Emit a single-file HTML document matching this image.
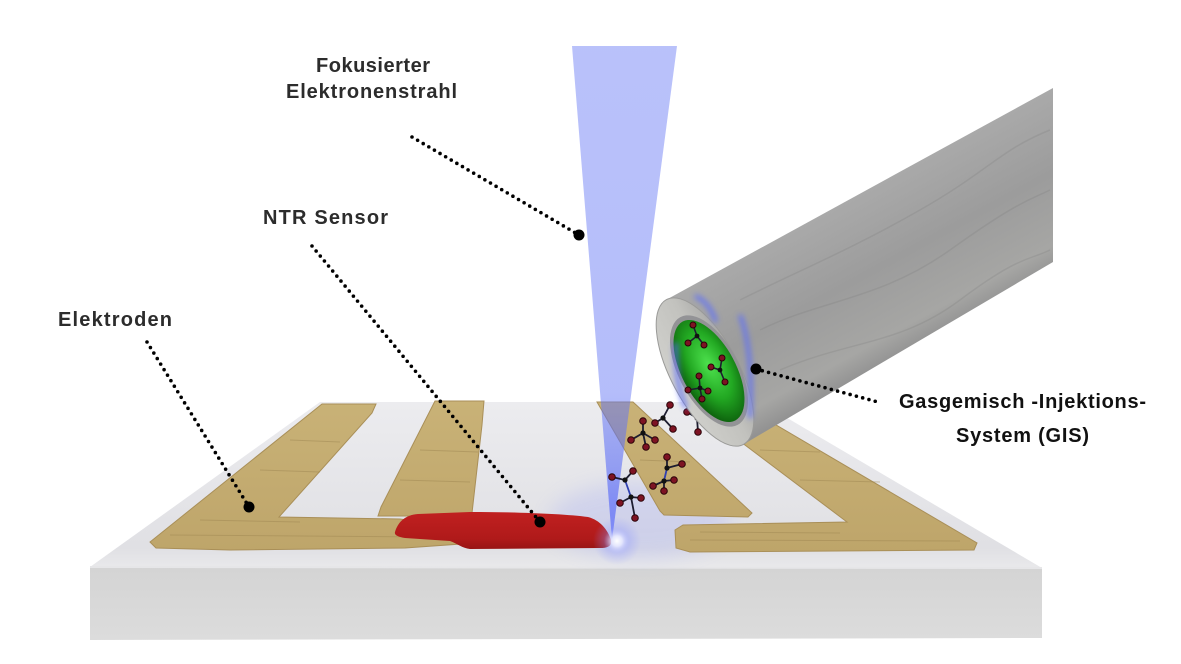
<!DOCTYPE html>
<html><head><meta charset="utf-8">
<style>
html,body{margin:0;padding:0;background:#fff;}
svg{display:block;}
text{font-family:"Liberation Sans",Arial,sans-serif;font-weight:bold;font-size:20px;}
</style></head><body>
<svg width="1181" height="664" viewBox="0 0 1181 664" xmlns="http://www.w3.org/2000/svg">
<defs>
 <linearGradient id="topf" x1="0" y1="402" x2="0" y2="568" gradientUnits="userSpaceOnUse">
  <stop offset="0" stop-color="#ececef"/><stop offset="0.88" stop-color="#e0e0e4"/><stop offset="1" stop-color="#e9e9eb"/>
 </linearGradient>
 <linearGradient id="front" x1="0" y1="567" x2="0" y2="640" gradientUnits="userSpaceOnUse">
  <stop offset="0" stop-color="#d4d4d4"/><stop offset="1" stop-color="#dcdcdc"/>
 </linearGradient>
 <linearGradient id="tan" x1="0" y1="400" x2="0" y2="552" gradientUnits="userSpaceOnUse">
  <stop offset="0" stop-color="#c9b277"/><stop offset="1" stop-color="#bea56a"/>
 </linearGradient>
 <linearGradient id="red" x1="0" y1="512" x2="0" y2="550" gradientUnits="userSpaceOnUse">
  <stop offset="0" stop-color="#c02020"/><stop offset="0.7" stop-color="#b01a1a"/><stop offset="1" stop-color="#951414"/>
 </linearGradient>
 <linearGradient id="beam" x1="0" y1="46" x2="0" y2="540" gradientUnits="userSpaceOnUse">
  <stop offset="0" stop-color="#6476f5" stop-opacity="0.45"/>
  <stop offset="0.7" stop-color="#6476f5" stop-opacity="0.48"/>
  <stop offset="1" stop-color="#5a6af8" stop-opacity="0.75"/>
 </linearGradient>
 <radialGradient id="glow" cx="0.5" cy="0.5" r="0.5">
  <stop offset="0" stop-color="#ffffff" stop-opacity="1"/>
  <stop offset="0.22" stop-color="#e6e8ff" stop-opacity="0.9"/>
  <stop offset="0.55" stop-color="#8c96ff" stop-opacity="0.3"/>
  <stop offset="1" stop-color="#8c96ff" stop-opacity="0"/>
 </radialGradient>
 <linearGradient id="tube" x1="870" y1="190" x2="947" y2="331" gradientUnits="userSpaceOnUse">
  <stop offset="0" stop-color="#a9a9a9"/><stop offset="0.45" stop-color="#9c9c9c"/>
  <stop offset="0.85" stop-color="#a6a6a4"/><stop offset="1" stop-color="#929292"/>
 </linearGradient>
 <linearGradient id="rim" x1="0" y1="0" x2="1" y2="0">
  <stop offset="0" stop-color="#cfcfcb"/><stop offset="0.6" stop-color="#c2c2be"/><stop offset="1" stop-color="#a8a8a6"/>
 </linearGradient>
 <radialGradient id="green" cx="0.55" cy="0.45" r="0.6">
  <stop offset="0" stop-color="#4ee24e"/><stop offset="0.55" stop-color="#22a822"/><stop offset="1" stop-color="#0b5a0b"/>
 </radialGradient>
 <filter id="blur3" x="-50%" y="-50%" width="200%" height="200%"><feGaussianBlur stdDeviation="3"/></filter>
 <filter id="blur8" x="-50%" y="-50%" width="200%" height="200%"><feGaussianBlur stdDeviation="10"/></filter>
</defs>

<!-- slab -->
<polygon points="320,402 760,402 1042,568 90,567" fill="url(#topf)"/>
<polygon points="90,567 1042,568 1042,638 90,640" fill="url(#front)"/>
<line x1="90" y1="567" x2="1042" y2="568" stroke="#e6e6e8" stroke-width="2"/>

<!-- blue haze -->
<ellipse cx="640" cy="520" rx="90" ry="38" fill="#7c88ff" opacity="0.18" filter="url(#blur8)"/>

<!-- electrodes -->
<g fill="url(#tan)" stroke="#a98f58" stroke-width="1">
 <path d="M322,404 L376,404 L372,413 L279,517 L400,519 L458,527 L461,544 L405,548 L230,550 L156,548 L150,542 Z"/>
 <path d="M435,401 L484,401 L482,425 L472,513 L410,516 L378,516 L381,507 Z"/>
 <path d="M597,402 L633,402 L752,513 L748,517 L664,515 L660,511 Z"/>
 <path d="M688,402 L737,402 L977,543 L974,550 L690,552 L676,548 L675,530 L683,525 L847,522 Z"/>
</g>
<g stroke="#9c8450" stroke-width="1" opacity="0.45" fill="none">
 <path d="M170,535 L440,537"/><path d="M200,520 L300,522"/><path d="M260,470 L320,472"/><path d="M290,440 L340,442"/>
 <path d="M400,480 L470,482"/><path d="M420,450 L478,452"/><path d="M640,460 L690,462"/>
 <path d="M690,540 L960,541"/><path d="M700,532 L840,533"/><path d="M800,480 L880,482"/><path d="M760,450 L820,452"/>
</g>

<!-- red sensor -->
<path d="M395,532 C398,522 405,515 418,514 L470,512 C520,512 565,514 588,517 C600,520 608,530 611,540 C612,546 608,548 600,548 L470,549 C462,548 458,544 450,541 L405,538 C398,537 394,535 395,532 Z" fill="url(#red)"/>

<!-- beam -->
<polygon points="572,46 677,46 612,540" fill="url(#beam)"/>
<circle cx="617" cy="541" r="24" fill="url(#glow)"/>

<!-- molecules over slab -->
<g stroke="#1d1d30" stroke-width="1.8" fill="none">
 <path d="M643,433 L643,421 M643,433 L631,440 M643,433 L655,440 M643,433 L646,447"/>
 <path d="M663,418 L670,405 M663,418 L655,423 M663,418 L673,429"/>
 <path d="M667,468 L667,457 M667,468 L682,464 M664,481 L653,486 M664,481 L664,491 M664,481 L674,480"/>
 <path d="M625,480 L612,477 M625,480 L633,471 M631,497 L620,503 M631,497 L641,498 M631,497 L635,518"/>
 <path d="M697,418 L687,412 M697,418 L704,410 M697,418 L698,432 M697,418 L709,423"/>
</g>
<g stroke="#3040b0" stroke-width="1.8" fill="none">
 <path d="M667,468 L664,481"/><path d="M625,480 L631,497"/>
</g>
<g fill="#7d1323" stroke="#2a0308" stroke-width="1">
 <circle cx="643" cy="421" r="3.3"/><circle cx="631" cy="440" r="3.3"/><circle cx="655" cy="440" r="3.3"/><circle cx="646" cy="447" r="3.3"/>
 <circle cx="670" cy="405" r="3.3"/><circle cx="655" cy="423" r="3.3"/><circle cx="673" cy="429" r="3.3"/>
 <circle cx="667" cy="457" r="3.3"/><circle cx="682" cy="464" r="3.3"/><circle cx="653" cy="486" r="3.3"/><circle cx="664" cy="491" r="3.3"/><circle cx="674" cy="480" r="3.3"/>
 <circle cx="612" cy="477" r="3.3"/><circle cx="633" cy="471" r="3.3"/><circle cx="620" cy="503" r="3.3"/><circle cx="641" cy="498" r="3.3"/><circle cx="635" cy="518" r="3.3"/>
 <circle cx="687" cy="412" r="3.3"/><circle cx="704" cy="410" r="3.3"/><circle cx="698" cy="432" r="3.3"/><circle cx="709" cy="423" r="3.3"/>
</g>
<g fill="#111">
 <circle cx="643" cy="433" r="2.6"/><circle cx="663" cy="418" r="2.6"/><circle cx="667" cy="468" r="2.6"/><circle cx="664" cy="481" r="2.6"/>
 <circle cx="625" cy="480" r="2.6"/><circle cx="631" cy="497" r="2.6"/><circle cx="697" cy="418" r="2.6"/>
</g>

<!-- GIS tube -->
<polygon points="666.5,299.6 1053,88 1053,262 743.5,444.4" fill="url(#tube)"/>
<g opacity="0.18" stroke="#6e6e6e" stroke-width="1.5" fill="none">
 <path d="M760,330 C820,300 880,300 950,250 S1030,200 1050,190"/>
 <path d="M780,370 C850,340 900,345 960,300 S1030,260 1050,250"/>
 <path d="M740,300 C800,270 850,250 920,210 S1000,150 1050,130"/>
</g>
<g transform="translate(705,372) rotate(-28)">
 <ellipse cx="0" cy="0" rx="34" ry="82" fill="url(#rim)" stroke="#9a9a98" stroke-width="1"/>
 <ellipse cx="4" cy="1" rx="30" ry="61" fill="#939396"/>
 <ellipse cx="4" cy="1" rx="27" ry="56" fill="url(#green)"/>
</g>
<g filter="url(#blur3)" fill="none" stroke="#5a6cff" stroke-width="4" opacity="0.85">
 <path d="M740,315 C750,340 752,380 750,418"/>
 <path d="M676,343 C675,365 678,390 686,408"/>
 <path d="M695,296 C705,300 712,310 716,322"/>
</g>

<!-- molecules inside green -->
<g stroke="#1d1d30" stroke-width="1.6" fill="none">
 <path d="M697,336 L693,325 M697,336 L688,343 M697,336 L704,345"/>
 <path d="M720,370 L711,367 M720,370 L725,382 M720,370 L722,358"/>
 <path d="M700,388 L688,390 M700,388 L708,391 M700,388 L702,399 M700,388 L699,376"/>
</g>
<g fill="#7d1323" stroke="#2a0308" stroke-width="1">
 <circle cx="693" cy="325" r="3"/><circle cx="688" cy="343" r="3"/><circle cx="704" cy="345" r="3"/>
 <circle cx="711" cy="367" r="3"/><circle cx="725" cy="382" r="3"/><circle cx="722" cy="358" r="3"/>
 <circle cx="688" cy="390" r="3"/><circle cx="708" cy="391" r="3"/><circle cx="702" cy="399" r="3"/><circle cx="699" cy="376" r="3"/>
</g>
<g fill="#111"><circle cx="697" cy="336" r="2.4"/><circle cx="720" cy="370" r="2.4"/><circle cx="700" cy="388" r="2.4"/></g>

<!-- dotted leader lines -->
<g stroke="#000" stroke-width="3.6" stroke-linecap="round" stroke-dasharray="0 6.5" fill="none">
 <line x1="412" y1="137" x2="579" y2="235"/>
 <line x1="312" y1="246" x2="540" y2="522"/>
 <line x1="147" y1="342" x2="249" y2="507"/>
 <line x1="756" y1="369" x2="878" y2="402"/>
</g>
<g fill="#000">
 <circle cx="579" cy="235" r="5.5"/><circle cx="540" cy="522" r="5.5"/><circle cx="249" cy="507" r="5.5"/><circle cx="756" cy="369" r="5.5"/>
</g>

<!-- labels -->
<g fill="#2c2c2c">
 <text x="316" y="72" textLength="114" lengthAdjust="spacing">Fokusierter</text>
 <text x="286" y="98" textLength="171" lengthAdjust="spacing">Elektronenstrahl</text>
 <text x="263" y="224" textLength="125" lengthAdjust="spacing">NTR Sensor</text>
 <text x="58" y="326" textLength="114" lengthAdjust="spacing">Elektroden</text>
</g>
<g fill="#111">
 <text x="899" y="408" textLength="247" lengthAdjust="spacing">Gasgemisch -Injektions-</text>
 <text x="956" y="442" textLength="133" lengthAdjust="spacing">System (GIS)</text>
</g>
</svg>
</body></html>
